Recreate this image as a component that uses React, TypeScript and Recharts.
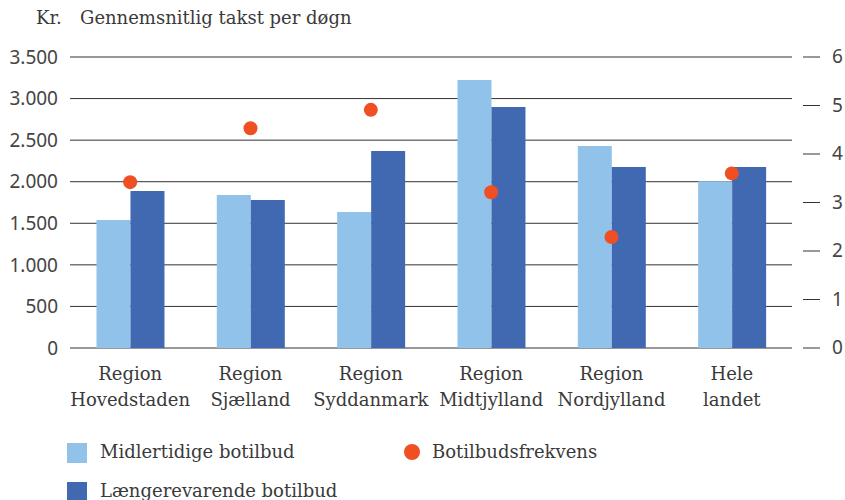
import React from 'react';
import { ComposedChart, Bar, Scatter, XAxis, YAxis, CartesianGrid } from 'recharts';

const regions = [
  'Region\nHovedstaden',
  'Region\nSjælland',
  'Region\nSyddanmark',
  'Region\nMidtjylland',
  'Region\nNordjylland',
  'Hele\nlandet',
];
const midlertidige = [1540, 1840, 1636, 3223, 2430, 2005];
const laengerevarende = [1888, 1780, 2370, 2899, 2177, 2177];
const frekvens = [3.42, 4.53, 4.91, 3.21, 2.29, 3.6];
const leftTicks = [0, 500, 1000, 1500, 2000, 2500, 3000, 3500];
const rightTicks = [0, 1, 2, 3, 4, 5, 6];

const LIGHT = '#91c3ea';
const DARK = '#4169b2';
const RED = '#f04e23';
const SERIF = '"DejaVu Serif", serif';
const SANS = '"Noto Sans", sans-serif';

const data = regions.map((name, i) => ({
  name,
  mid: midlertidige[i],
  lang: laengerevarende[i],
  frek: frekvens[i],
}));

const fmt = (v: number) => String(v).replace(/\B(?=(\d{3})+(?!\d))/g, '.');

const XTick = (props: any) => {
  const { x, y, payload } = props;
  const lines = String(payload.value).split('\n');
  return (
    <g>
      {lines.map((l, i) => (
        <text key={i} x={x} y={y + 24 + i * 26} textAnchor="middle" fontFamily={SERIF} fontSize={18} fill="#3a3a3a">
          {l}
        </text>
      ))}
    </g>
  );
};

const RightTick = (props: any) => {
  const { x, y, payload } = props;
  return (
    <g>
      <line x1={x + 11} x2={x + 28} y1={y} y2={y} stroke="#333" strokeWidth={1} />
      <text x={x + 40} y={y} dy={6} textAnchor="start" fontFamily={SANS} fontSize={19} fill="#444">
        {payload.value}
      </text>
    </g>
  );
};

const Dot = (props: any) => <circle cx={props.cx} cy={props.cy} r={7} fill={RED} />;

const legendText = { position: 'absolute' as const, fontFamily: SERIF, fontSize: 18, color: '#3a3a3a', whiteSpace: 'pre' as const };

export default function App() {
  return (
    <div style={{ position: 'absolute', left: 0, top: 0, width: 845, height: 500, background: '#fff', overflow: 'hidden' }}>
      <div style={{ ...legendText, left: 36, top: 7 }}>Kr.</div>
      <div style={{ ...legendText, left: 80, top: 7 }}>Gennemsnitlig takst per døgn</div>
      <ComposedChart
        width={845}
        height={500}
        data={data}
        margin={{ top: 57, right: 0, left: 0, bottom: 82 }}
        barCategoryGap="22%"
        barGap={0}
      >
        <CartesianGrid vertical={false} stroke="#333" yAxisId="left" />
        <XAxis dataKey="name" axisLine={false} tickLine={false} tick={<XTick />} height={70} interval={0} />
        <YAxis
          yAxisId="left"
          domain={[0, 3500]}
          ticks={leftTicks}
          width={70}
          axisLine={false}
          tickLine={false}
          tickSize={0}
          tickMargin={12}
          tickFormatter={fmt}
          tick={{ fontFamily: SANS, fontSize: 19, fill: '#444' }}
        />
        <YAxis
          yAxisId="right"
          orientation="right"
          domain={[0, 6]}
          ticks={rightTicks}
          width={53}
          axisLine={false}
          tickLine={false}
          tickSize={0}
          tickMargin={0}
          tick={<RightTick />}
        />
        <Bar yAxisId="left" dataKey="mid" fill={LIGHT} isAnimationActive={false} />
        <Bar yAxisId="left" dataKey="lang" fill={DARK} isAnimationActive={false} />
        <Scatter yAxisId="right" dataKey="frek" shape={<Dot />} isAnimationActive={false} />
      </ComposedChart>
      <div style={{ position: 'absolute', left: 67, top: 443, width: 20, height: 20, background: LIGHT }} />
      <div style={{ ...legendText, left: 100, top: 441 }}>Midlertidige botilbud</div>
      <div style={{ position: 'absolute', left: 404, top: 444, width: 16, height: 16, borderRadius: 8, background: RED }} />
      <div style={{ ...legendText, left: 432, top: 441 }}>Botilbudsfrekvens</div>
      <div style={{ position: 'absolute', left: 67, top: 482, width: 20, height: 20, background: DARK }} />
      <div style={{ ...legendText, left: 100, top: 480 }}>Længerevarende botilbud</div>
    </div>
  );
}
